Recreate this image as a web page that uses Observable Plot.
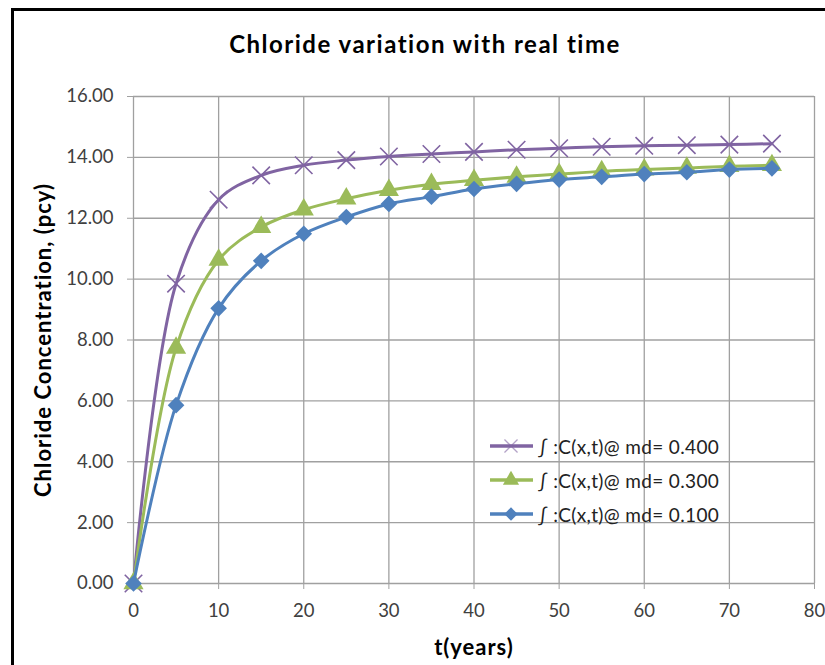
<!DOCTYPE html>
<html><head><meta charset="utf-8">
<script src="https://cdn.jsdelivr.net/npm/d3@7"></script>
<script src="https://cdn.jsdelivr.net/npm/@observablehq/plot@0.6"></script>
<style>
body{margin:0;background:#fff;}
#wrap{position:relative;width:825px;height:665px;overflow:hidden;font-family:Lato,"Open Sans",sans-serif;background:#fff;}
#frame{position:absolute;left:11px;top:8px;width:900px;height:900px;border-left:3px solid #000;border-top:3px solid #000;box-sizing:border-box;}
#title{position:absolute;top:29px;left:0;width:850px;text-align:center;font-weight:bold;font-size:24px;letter-spacing:1.5px;color:#000;}
#chart{position:absolute;left:0;top:0;}
#chart g[aria-label="x-axis label"] text,#chart g[aria-label="y-axis label"] text{font-weight:bold;font-size:22px;letter-spacing:1px;fill:#000;}
#legend{position:absolute;left:488px;top:429px;font-size:19px;letter-spacing:0.35px;color:#222;}
#legend .row{display:flex;align-items:center;height:34px;}
#legend svg{margin-right:4px;}
</style></head>
<body>
<div id="wrap">
  <div id="frame"></div>
  <div id="chart"></div>
  <div id="title">Chloride variation with real time</div>
  <div id="legend"></div>
</div>
<script>
// Data
const years = [0,5,10,15,20,25,30,35,40,45,50,55,60,65,70,75];
const md400 = [0,9.85,12.61,13.41,13.74,13.91,14.03,14.11,14.18,14.25,14.30,14.35,14.38,14.40,14.42,14.45];
const md300 = [0,7.74,10.63,11.71,12.28,12.64,12.92,13.12,13.25,13.36,13.45,13.54,13.60,13.65,13.71,13.74];
const md100 = [0,5.86,9.04,10.60,11.49,12.04,12.47,12.71,12.96,13.13,13.27,13.36,13.45,13.51,13.60,13.64];
const seriesNames = ["∫ :C(x,t)@ md= 0.400","∫ :C(x,t)@ md= 0.300","∫ :C(x,t)@ md= 0.100"];
const seriesColors = ["#8064A2","#9BBB59","#4F81BD"];
const seriesSymbols = ["times","triangle","diamond2"];
const xTicks = [0,10,20,30,40,50,60,70,80];
const yTicks = [0,2,4,6,8,10,12,14,16];
const titleText = "Chloride variation with real time";
const xLabel = "t(years)";
const yLabel = "Chloride Concentration, (pcy)";

const seriesValues = [md400, md300, md100];
const rows = seriesValues.map((vals, i) => years.map((t, j) => ({t, c: vals[j], s: seriesNames[i]})));

const marks = [
  Plot.gridX(xTicks, {stroke:"#a0a0a0", strokeOpacity:1, strokeWidth:1.3}),
  Plot.gridY(yTicks, {stroke:"#a0a0a0", strokeOpacity:1, strokeWidth:1.3}),
  Plot.axisX(xTicks, {tickSize:6, tickPadding:14, stroke:"#a0a0a0", fill:"#404040", fontSize:18.5,
    label:xLabel, labelAnchor:"center", labelArrow:"none", labelOffset:71}),
  Plot.axisY(yTicks, {tickSize:6, tickPadding:14, stroke:"#a0a0a0", fill:"#404040", fontSize:18.5,
    tickFormat:d=>d.toFixed(2), label:yLabel, labelAnchor:"center", labelArrow:"none", labelOffset:98})
];
rows.forEach((data, i) => {
  marks.push(Plot.line(data, {x:"t", y:"c", stroke:seriesColors[i], strokeWidth:3, curve:"catmull-rom"}));
  if (seriesSymbols[i] === "times") {
    marks.push(Plot.dot(data, {x:"t", y:"c", symbol:"times", r:8, stroke:seriesColors[i], strokeWidth:1.6, fill:"none"}));
  } else {
    marks.push(Plot.dot(data, {x:"t", y:"c", symbol:seriesSymbols[i], r:7.5, fill:seriesColors[i], stroke:"none"}));
  }
});

const chart = Plot.plot({
  width:825, height:665,
  marginLeft:133, marginRight:11, marginTop:96, marginBottom:82,
  style:{fontFamily:"Lato, 'Open Sans', sans-serif", fontSize:"17px", background:"transparent"},
  x:{domain:[0,80]},
  y:{domain:[0,16]},
  marks
});
document.getElementById("chart").appendChild(chart);
document.getElementById("title").textContent = titleText;

// Legend
const legend = document.getElementById("legend");
seriesNames.forEach((name, i) => {
  const row = document.createElement("div");
  row.className = "row";
  const ns = "http://www.w3.org/2000/svg";
  const svg = document.createElementNS(ns, "svg");
  svg.setAttribute("width", 46); svg.setAttribute("height", 20);
  const ln = document.createElementNS(ns, "line");
  ln.setAttribute("x1", 2); ln.setAttribute("x2", 45); ln.setAttribute("y1", 10); ln.setAttribute("y2", 10);
  ln.setAttribute("stroke", seriesColors[i]); ln.setAttribute("stroke-width", 3.5);
  svg.appendChild(ln);
  const sym = document.createElementNS(ns, "path");
  const symType = {times:d3.symbolTimes, triangle:d3.symbolTriangle, diamond2:d3.symbolDiamond2}[seriesSymbols[i]];
  sym.setAttribute("d", d3.symbol(symType, Math.PI*6*6)());
  sym.setAttribute("transform", "translate(23,10)");
  if (seriesSymbols[i] === "times") { sym.setAttribute("stroke", seriesColors[i]); sym.setAttribute("stroke-width", 1.3); sym.setAttribute("fill", "none"); sym.setAttribute("stroke-opacity", 0.6); }
  else sym.setAttribute("fill", seriesColors[i]);
  svg.appendChild(sym);
  row.appendChild(svg);
  const span = document.createElement("span");
  span.textContent = name;
  row.appendChild(span);
  legend.appendChild(row);
});
</script>
</body></html>
